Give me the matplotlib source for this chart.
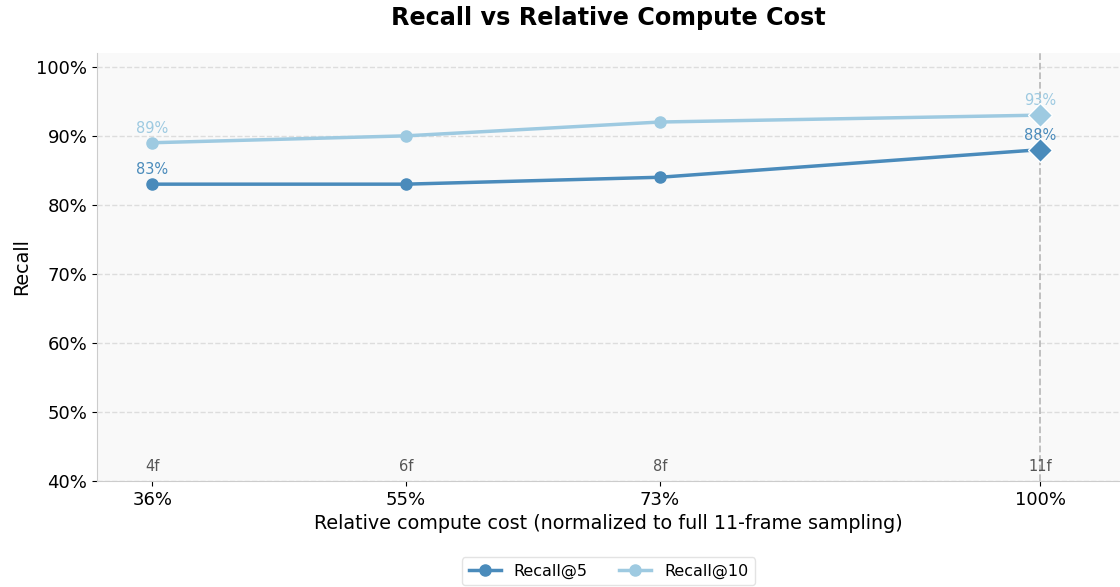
import matplotlib
matplotlib.use("Agg")
import matplotlib.pyplot as plt
import numpy as np

frames = [4, 6, 8, 11]
frame_labels = ["4f", "6f", "8f", "11f"]
rel_cost = [f / 11 * 100 for f in frames]
cost_labels = ["36%", "55%", "73%", "100%"]
recall5 = [83, 83, 84, 88]
recall10 = [89, 90, 92, 93]

c5 = "#4a8bbb"
c10 = "#9ecae1"

fig = plt.figure(figsize=(11.2, 5.87), dpi=100)
ax = fig.add_axes([97 / 1120, 1 - 481 / 587, (1120 - 97) / 1120, (481 - 53) / 587])
ax.set_facecolor("#f9f9f9")

for vals, col, lab in [(recall5, c5, "Recall@5"), (recall10, c10, "Recall@10")]:
    ax.plot(rel_cost, vals, color=col, lw=2.5, marker="o", markersize=8, label=lab, zorder=3)
    ax.plot(rel_cost[-1], vals[-1], marker="D", color=col, markersize=12,
            markeredgecolor="white", markeredgewidth=1, zorder=4, linestyle="none")
    for x, v in zip(rel_cost, vals):
        if x == rel_cost[1] or x == rel_cost[2]:
            continue
        ax.annotate(f"{v}%", (x, v), xytext=(0, 5), textcoords="offset points",
                    ha="center", va="bottom", color=col, fontsize=10.5)

ax.axvline(rel_cost[-1], color="#bbbbbb", ls="--", lw=1.3, zorder=1)

for x, fl in zip(rel_cost, frame_labels):
    ax.text(x, 41.0, fl, ha="center", va="bottom", fontsize=10.5, color="#555555")

ax.set_xlim(32.4, 105.7)
ax.set_ylim(40, 102)
ax.set_xticks(rel_cost)
ax.set_xticklabels(cost_labels, fontsize=13)
yt = list(range(40, 101, 10))
ax.set_yticks(yt)
ax.set_yticklabels([f"{v}%" for v in yt], fontsize=13)
ax.yaxis.grid(True, ls="--", color="#dddddd", lw=1)
ax.set_axisbelow(True)
for s in ["top", "right"]:
    ax.spines[s].set_visible(False)
for s in ["left", "bottom"]:
    ax.spines[s].set_color("#cccccc")
ax.set_xlabel("Relative compute cost (normalized to full 11-frame sampling)", fontsize=13.8)
ax.set_ylabel("Recall", fontsize=13.8)
ax.set_title("Recall vs Relative Compute Cost", fontsize=17.2, fontweight="bold", pad=20)

ax.legend(loc="upper center", bbox_to_anchor=(0.5, -0.16), ncol=2, fontsize=11.5,
          frameon=True, edgecolor="#dddddd")

fig.savefig("out.png", dpi=100)
